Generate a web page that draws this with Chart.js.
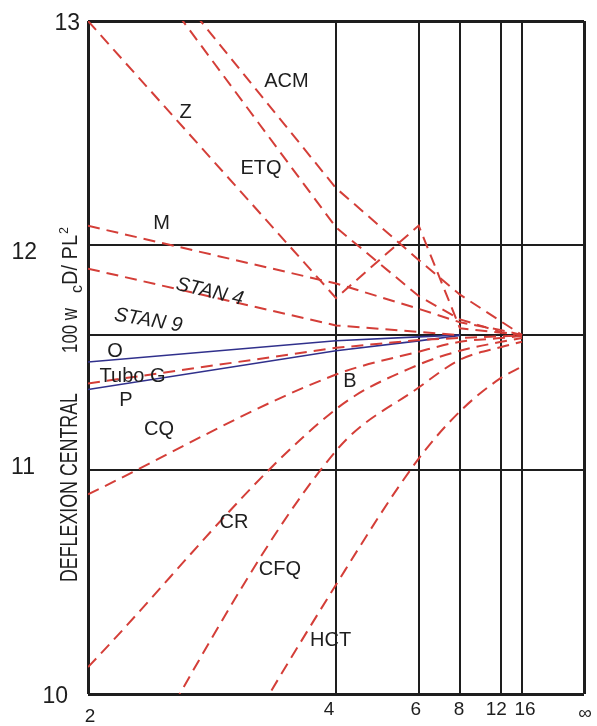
<!DOCTYPE html>
<html><head><meta charset="utf-8">
<script src="https://cdn.jsdelivr.net/npm/chart.js@4.4.1/dist/chart.umd.min.js"></script>
<style>html,body{margin:0;padding:0;background:#fff;}canvas{display:block;}</style>
</head><body>
<canvas id="c" width="597" height="726"></canvas>
<script>
// ---- data ----
const meshN = [2, 4, 6, 8, 12, 16];
const xTickMesh = [2, 4, 6, 8, 12, 16, Infinity];
const xTickLabels = ['2', '4', '6', '8', '12', '16', '\u221E'];
const yTickValues = [13, 12, 11, 10];
const yGridValues = [10, 11, 11.6, 12, 13];

const ACM   = [13.62, 12.255, 11.935, 11.78, 11.66, 11.60];
const ETQ   = [13.57, 12.08, 11.774, 11.67, 11.613, 11.60];
const Z     = [13.0, 11.765, 12.088, 11.63, 11.61, 11.60];
const M     = [12.087, 11.83, 11.717, 11.657, 11.622, 11.60];
const STAN4 = [11.896, 11.643, 11.614, 11.60];
const O     = [11.48, 11.575, 11.592, 11.60];
const TuboG = [11.384, 11.543, 11.578, 11.587, 11.594, 11.598];
const P     = [11.357, 11.53, 11.574, 11.598];
const CQ    = [10.89, 11.424, 11.526, 11.57, 11.587, 11.596];
const CR    = [10.12, 11.27, 11.468, 11.53, 11.57, 11.587];
const CFQ   = [9.3, 11.084, 11.366, 11.49, 11.547, 11.57];
const HCT   = [8.63, 10.487, 11.049, 11.26, 11.41, 11.459];

const labelTexts = ['ACM', 'Z', 'ETQ', 'M', 'STAN 4', 'STAN 9', 'O', 'Tubo G', 'P', 'B', 'CQ', 'CR', 'CFQ', 'HCT'];
const labelX = [0.2999, 0.4017, 0.3256, 0.4259, 0.3770, 0.4390, 0.4728, 0.4551, 0.4617, 0.2359, 0.4284, 0.3528, 0.3065, 0.2555];
const labelY = [12.738, 12.601, 12.350, 12.104, 11.80, 11.672, 11.536, 11.421, 11.315, 11.399, 11.1875, 10.774, 10.562, 10.244];

// ---- drawing ----
const FONT = '"Liberation Sans", Arial, Helvetica, sans-serif';
const RED = 'rgb(212,62,56)';
const BLUE = 'rgb(48,48,140)';
const INK = '#1e1e1e';

const pts = vals => vals.map((v, i) => ({x: 1 / meshN[i], y: v}));
const redLine = (label, vals, smooth) => ({
  label, data: pts(vals), showLine: true, pointRadius: 0, fill: false,
  borderColor: RED, borderWidth: 2, borderDash: [12, 7], tension: 0,
  cubicInterpolationMode: smooth ? 'monotone' : 'default'
});
const blueLine = (label, vals) => ({
  label, data: pts(vals), showLine: true, pointRadius: 0, fill: false,
  borderColor: BLUE, borderWidth: 1.6, tension: 0
});

const annotate = {
  id: 'annotate',
  afterDraw(chart) {
    const {ctx, scales: {x, y}} = chart;
    ctx.save();
    ctx.fillStyle = INK;
    ctx.textBaseline = 'alphabetic';
    // y tick labels
    const yRight = {13: 80, 12: 37, 11: 35, 10: 68};
    const yDy = {13: 1, 12: 5, 11: -4, 10: 1};
    ctx.font = '23px ' + FONT;
    ctx.textAlign = 'right';
    yTickValues.forEach(v => {
      const py = y.getPixelForValue(v) + yDy[v];
      ctx.fillText(String(v), yRight[v], py + 0.358 * 23);
    });
    // x tick labels
    ctx.font = '19px ' + FONT;
    ctx.textAlign = 'center';
    const xDx = [2, -7, -3, -1, -5, 3, 1];
    const xBase = [722, 715, 715, 715, 715, 715, 719];
    xTickMesh.forEach((n, i) => {
      ctx.fillText(xTickLabels[i], x.getPixelForValue(1 / n) + xDx[i], xBase[i]);
    });
    // y axis title (rotated, condensed)
    const vtext = (s, baseX, bottomY, topY, size) => {
      ctx.save();
      ctx.font = size + 'px ' + FONT;
      const w = ctx.measureText(s).width;
      ctx.translate(baseX, bottomY);
      ctx.rotate(-Math.PI / 2);
      ctx.scale((bottomY - topY) / w, 1);
      ctx.textAlign = 'left';
      ctx.fillText(s, 0, 0);
      ctx.restore();
    };
    vtext('DEFLEXION CENTRAL', 77, 582, 393, 23);
    vtext('100 w', 77, 353, 308, 22);
    vtext('c', 82, 293, 285, 16);
    vtext('D/ PL', 77, 285, 235, 22);
    vtext('2', 68, 234, 227, 13);
    // curve labels
    labelTexts.forEach((s, i) => {
      const px = x.getPixelForValue(labelX[i]);
      const py = y.getPixelForValue(labelY[i]);
      ctx.save();
      ctx.translate(px, py);
      if (s.indexOf('STAN') === 0) {
        ctx.font = 'italic 20px ' + FONT;
        ctx.rotate((s === 'STAN 4' ? 13 : 9.5) * Math.PI / 180);
      } else {
        ctx.font = '20px ' + FONT;
      }
      ctx.textAlign = 'center';
      ctx.fillText(s, 0, 0.358 * 20);
      ctx.restore();
    });
    ctx.restore();
  }
};

const edgeWidth = (c, a, b) => (c.tick && (c.tick.value === a || c.tick.value === b)) ? 3 : 2;

new Chart(document.getElementById('c'), {
  type: 'scatter',
  data: {
    datasets: [
      redLine('ACM', ACM), redLine('ETQ', ETQ), redLine('Z', Z), redLine('M', M),
      redLine('STAN 4', STAN4),
      blueLine('O', O), redLine('Tubo G', TuboG), blueLine('P', P),
      redLine('CQ', CQ, true), redLine('CR', CR, true), redLine('CFQ', CFQ, true), redLine('HCT', HCT, true)
    ]
  },
  options: {
    responsive: false, animation: false, devicePixelRatio: 1,
    layout: {padding: {left: 88, right: 13, top: 21, bottom: 32}},
    plugins: {legend: {display: false}, tooltip: {enabled: false}},
    scales: {
      x: {
        type: 'linear', min: 0, max: 0.5, reverse: true,
        afterBuildTicks: s => { s.ticks = xTickMesh.map(n => ({value: 1 / n})); },
        ticks: {display: false},
        grid: {color: INK, lineWidth: c => edgeWidth(c, 0, 0.5), drawTicks: false},
        border: {display: false}
      },
      y: {
        type: 'linear', min: 10, max: 13,
        afterBuildTicks: s => { s.ticks = yGridValues.map(v => ({value: v})); },
        ticks: {display: false},
        grid: {color: INK, lineWidth: c => edgeWidth(c, 10, 13), drawTicks: false},
        border: {display: false}
      }
    }
  },
  plugins: [annotate]
});
</script>
</body></html>
